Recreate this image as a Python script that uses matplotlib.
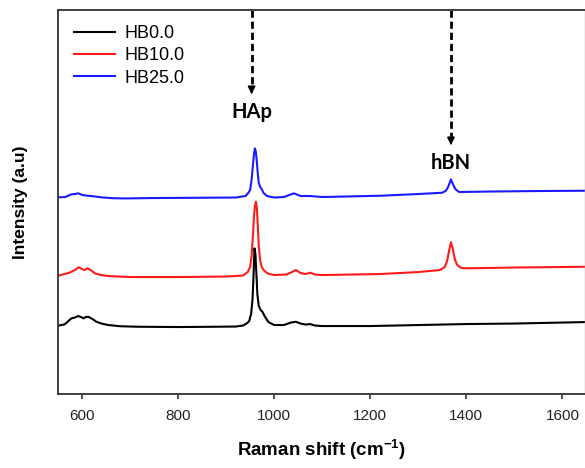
import matplotlib
matplotlib.use('Agg')
import matplotlib.pyplot as plt

# Raman spectra (arbitrary intensity units, stacked)
shift_black = [550, 564, 578, 585, 592, 598, 603, 608, 613, 622, 630, 642, 655, 680, 716, 800, 880,
               920, 935, 944, 948, 952, 955, 957, 959, 961, 963, 965, 968, 972, 976, 980, 988, 1000,
               1020, 1035, 1045, 1055, 1065, 1075, 1085, 1100, 1200, 1300, 1400, 1500, 1650]
hb0 = [68.3, 69.7, 75.7, 76.5, 78.0, 77.0, 75.7, 77.0, 77.3, 75.0, 72.3, 70.3, 69.0, 67.8, 67.3, 67.0, 67.3,
       67.5, 68.5, 71.0, 73.0, 80.0, 95.0, 118.0, 145.7, 140.0, 120.0, 100.0, 88.0, 84.0, 82.0, 78.0,
       72.0, 69.0, 69.0, 71.5, 72.3, 70.5, 69.5, 70.0, 68.5, 68.0, 68.0, 69.0, 70.0, 70.5, 72.0]

shift_red = [550, 574, 585, 593, 600, 606, 611, 618, 627, 640, 655, 700, 800, 900, 935, 945, 950,
             953, 956, 958, 960, 962, 964, 966, 968, 971, 975, 980, 987, 1000, 1025, 1035, 1045,
             1055, 1065, 1075, 1085, 1100, 1221, 1300, 1345, 1355, 1360, 1364, 1368, 1372, 1376,
             1381, 1390, 1400, 1500, 1650]
hb10 = [118.3, 121.3, 124.0, 126.7, 125.0, 124.0, 125.7, 124.0, 120.7, 119.0, 118.0, 117.0, 117.0, 117.5,
        118.5, 122.0, 127.0, 138.0, 160.0, 178.0, 188.0, 192.3, 186.0, 168.0, 148.0, 133.0, 126.0,
        123.0, 120.5, 119.0, 119.5, 121.5, 124.0, 121.0, 120.0, 121.3, 119.5, 119.0, 120.0, 122.0,
        124.0, 127.0, 133.0, 143.0, 151.7, 145.0, 135.0, 129.0, 126.0, 125.7, 126.5, 127.3]

shift_blue = [550, 565, 578, 585, 592, 601, 612, 625, 640, 665, 690, 750, 850, 920, 940, 946, 950,
              953, 956, 958, 960, 962, 964, 966, 968, 971, 974, 978, 985, 1000, 1020, 1041, 1055,
              1075, 1100, 1221, 1300, 1350, 1358, 1363, 1368, 1372, 1377, 1385, 1450, 1550, 1650]
hb25 = [196.7, 197.0, 199.7, 200.0, 200.7, 199.0, 198.3, 197.7, 196.7, 195.8, 195.6, 196.0, 196.3, 196.5,
        198.0, 201.0, 204.0, 214.0, 230.0, 240.0, 245.7, 242.0, 232.0, 220.0, 211.0, 207.0, 205.0,
        201.0, 198.0, 196.5, 197.0, 200.7, 198.0, 198.0, 197.0, 198.3, 200.0, 201.3, 203.5, 208.0,
        214.7, 210.0, 205.0, 202.0, 202.5, 203.0, 203.3]

labels = ['HB0.0', 'HB10.0', 'HB25.0']
peak_names = ['HAp', 'hBN']
peak_pos = [953, 1368]
arrow_tip = [297, 246]
peak_text_y = [282, 231]

plt.rcParams['font.family'] = ['Liberation Sans', 'DejaVu Sans']
plt.rcParams['mathtext.fontset'] = 'custom'
plt.rcParams['mathtext.bf'] = 'Liberation Sans:bold'
plt.rcParams['mathtext.rm'] = 'Liberation Sans:bold'
plt.rcParams['mathtext.default'] = 'bf'

fig = plt.figure(figsize=(5.85, 4.68), dpi=100)
ax = fig.add_axes([0.0991, 0.158, 0.9009, 0.8217])

ax.plot(shift_black, hb0, color='black', lw=1.5, label=labels[0])
ax.plot(shift_red, hb10, color='#ff1a1a', lw=1.5, label=labels[1])
ax.plot(shift_blue, hb25, color='#1a1aff', lw=1.5, label=labels[2])

ax.set_xlim(550, 1647)
ax.set_ylim(0, 384.5)

# dashed arrows pointing at the peaks
for name, xp, tip, ty in zip(peak_names, peak_pos, arrow_tip, peak_text_y):
    ax.plot([xp, xp], [384.5, tip + 8], color='black', lw=2.0, ls=(0, (2.6, 1.4)))
    ax.annotate('', xy=(xp, tip), xytext=(xp, tip + 9),
                arrowprops=dict(arrowstyle='-|>', color='black', lw=1.2, mutation_scale=11))
    ax.text(xp, ty, name, ha='center', va='center', fontsize=14.5, fontweight='bold',
            family=['Lato', 'DejaVu Sans'])

ax.set_xticks([600, 800, 1000, 1200, 1400, 1600])
ax.set_yticks([])
ax.tick_params(axis='x', direction='out', length=3.5, width=1.1, pad=7, labelsize=11,
               colors='#222222')

for side in ['left', 'bottom', 'top']:
    ax.spines[side].set_linewidth(1.3)
    ax.spines[side].set_color('#333333')
ax.spines['right'].set_color('#bbbbbb')
ax.spines['right'].set_linewidth(1.0)

ax.set_xlabel(r'Raman shift (cm$^{-1}$)', fontsize=13.5, fontweight='bold')
ax.xaxis.set_label_coords(0.5, -0.115)
ax.set_ylabel('Intensity (a.u)', fontsize=12.5, fontweight='bold')
ax.yaxis.set_label_coords(-0.057, 0.5)

ax.legend(loc='upper left', bbox_to_anchor=(0.03, 0.96), frameon=False, fontsize=13,
          handlelength=2.3, handletextpad=0.5, labelspacing=0.3, borderpad=0,
          borderaxespad=0)

fig.savefig('out.png', dpi=100)
